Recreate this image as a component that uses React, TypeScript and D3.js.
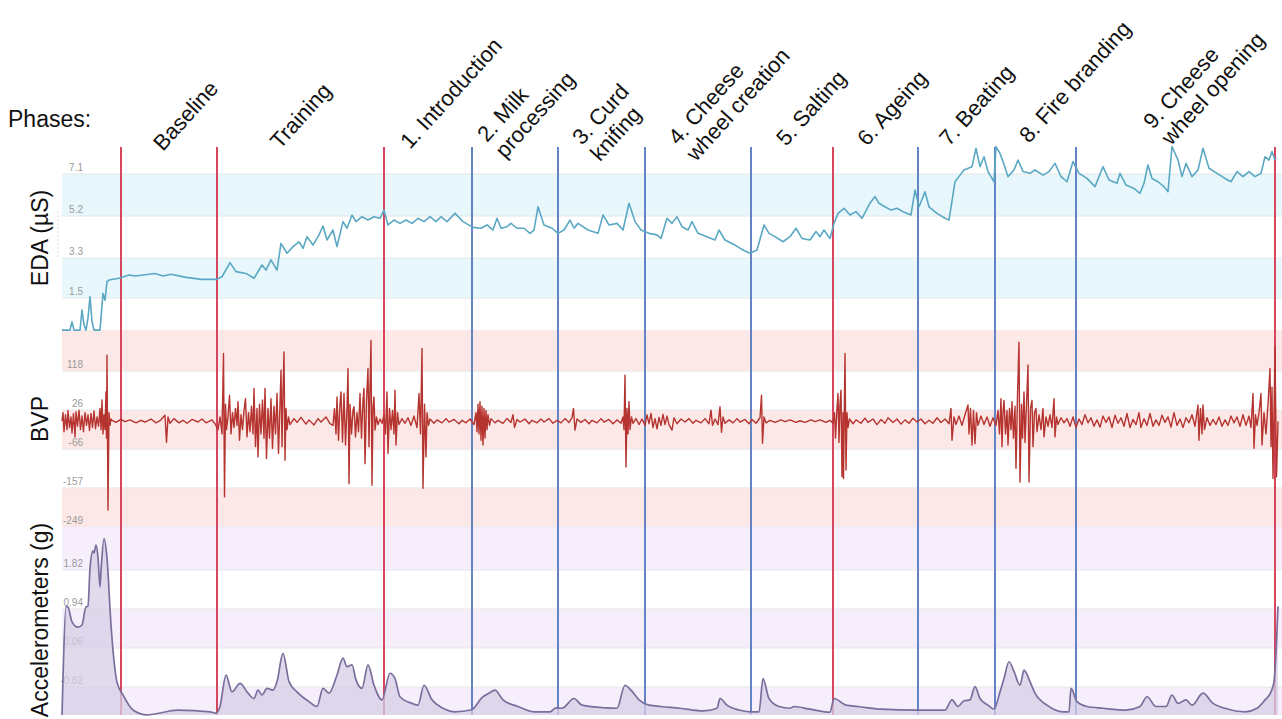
import React from 'react';
import * as d3 from 'd3';

// ---------- data ----------
const phaseLabels: string[][] = [
  ['Baseline'], ['Training'], ['1. Introduction'], ['2. Milk', 'processing'], ['3. Curd', 'knifing'],
  ['4. Cheese', 'wheel creation'], ['5. Salting'], ['6. Ageing'], ['7. Beating'], ['8. Fire branding'],
  ['9. Cheese', 'wheel opening'],
];
// phase boundaries (minutes) and whether each is a major (red) or minor (blue) boundary
const phaseBounds = [5.9, 15.5, 32.2, 41.0, 49.6, 58.3, 68.9, 77.1, 85.6, 93.3, 101.4, 121.3];
const boundKinds = ['major', 'major', 'major', 'minor', 'minor', 'minor', 'minor', 'major', 'minor', 'minor', 'minor', 'major'];

const edaTicks = [7.1, 5.2, 3.3, 1.5];
const bvpTicks = [118, 26, -66, -157, -249];
const accTicks = [1.82, 0.94, 0.06, -0.82];

const edaSeries: [number, number][] = [
  [0,0.05],[0.8,0.05],[1.0,0.43],[1.2,0.05],[1.8,0.05],[2.0,0.96],[2.2,0.3],[2.4,0.05],[2.6,0.6],[2.8,1.56],[3.0,0.43],[3.2,0.05],[3.8,0.05],[4.1,1.71],[4.3,1.4],[4.5,2.24],[4.7,2.31],[5.7,2.39],[6.7,2.54],[7.3,2.49],[8.1,2.54],[9.3,2.61],[10.1,2.49],[10.9,2.57],[12.4,2.43],[14.0,2.34],[15.4,2.34],[16.0,2.46],[16.8,3.10],[17.4,2.69],[18.4,2.61],[19.2,2.39],[20.0,2.99],[20.4,2.76],[20.9,3.22],[21.5,2.76],[21.9,3.97],[22.5,3.52],[23.1,3.82],[23.7,4.04],[24.1,3.74],[24.5,4.27],[25.1,3.89],[25.7,4.35],[26.1,4.75],[26.5,4.12],[27.1,4.57],[27.5,3.82],[28.1,4.95],[28.5,4.65],[29.0,5.25],[29.4,4.95],[30.0,5.17],[30.6,5.02],[31.2,5.17],[31.8,5.10],[32.2,5.47],[32.6,4.80],[33.2,5.02],[33.8,4.87],[34.4,5.02],[35.0,4.87],[35.6,5.10],[36.2,4.95],[36.8,5.17],[37.4,4.95],[37.9,5.17],[38.5,4.95],[39.3,5.32],[40.1,4.95],[41.1,4.69],[41.9,4.65],[42.5,4.80],[43.1,4.57],[43.5,5.10],[43.9,4.65],[44.5,4.72],[44.9,4.87],[45.5,4.65],[46.2,4.65],[46.8,4.42],[47.2,4.57],[47.6,5.62],[48.2,4.80],[49.0,4.65],[49.6,4.42],[50.2,4.57],[50.8,5.02],[51.2,4.65],[51.6,4.87],[52.6,4.57],[53.6,4.42],[54.1,5.25],[54.7,4.80],[55.5,4.87],[56.1,4.57],[56.7,5.78],[57.3,4.95],[57.9,4.57],[58.7,4.42],[59.5,4.35],[59.9,4.19],[60.5,5.10],[61.0,4.87],[61.5,5.17],[62.0,4.72],[62.6,4.57],[63.0,4.95],[63.6,4.42],[64.5,4.27],[65.3,4.12],[65.7,4.57],[66.3,4.12],[67.3,3.89],[68.1,3.67],[68.8,3.52],[69.5,3.67],[70.2,4.80],[70.7,4.42],[71.3,4.27],[72.1,4.04],[72.8,4.27],[73.4,4.65],[74.0,4.19],[74.8,4.12],[75.4,4.50],[75.8,4.27],[76.2,4.57],[76.8,4.19],[77.2,4.87],[77.6,5.32],[78.2,5.55],[78.8,5.25],[79.4,5.40],[80.0,5.10],[80.6,5.62],[80.9,5.85],[81.3,6.08],[81.7,5.78],[82.3,5.62],[82.9,5.47],[83.5,5.55],[84.1,5.40],[84.9,5.25],[85.3,6.38],[85.7,5.62],[86.3,6.30],[86.7,5.62],[87.5,5.32],[88.3,5.10],[88.7,5.02],[89.3,6.75],[89.8,7.05],[90.2,7.28],[91.0,7.43],[91.4,8.26],[91.8,7.43],[92.2,7.88],[92.6,7.21],[93.2,6.75],[93.4,8.34],[93.8,8.03],[94.1,7.66],[94.6,6.98],[95.2,7.28],[95.6,7.73],[96.1,7.21],[96.8,7.13],[97.3,7.28],[98.1,7.05],[98.7,7.21],[99.3,7.58],[99.9,6.98],[100.5,6.75],[101.1,7.66],[101.7,7.13],[102.5,6.90],[103.3,6.53],[104.1,7.43],[104.7,6.83],[105.5,6.68],[105.8,7.13],[106.4,6.60],[107.2,6.45],[107.8,6.23],[108.2,6.68],[108.6,7.51],[109.0,6.90],[109.6,6.75],[110.2,6.53],[110.6,6.30],[111.0,8.34],[111.6,7.73],[112.0,6.98],[112.4,7.58],[113.0,6.98],[113.6,7.28],[114.1,8.26],[114.7,7.36],[115.5,7.13],[116.3,6.90],[116.9,6.75],[117.5,7.21],[118.1,6.98],[118.7,7.21],[119.3,6.98],[119.9,7.13],[120.3,7.88],[120.7,7.73],[121.0,8.11],[121.3,7.73],
];

const bvpSeries: [number, number][] = [
  [0,0],[0.1,20],[0.2,-25],[0.35,15],[0.5,-20],[0.6,25],[0.75,-15],[0.9,10],[1.0,-28],[1.15,18],[1.3,-37],[1.4,22],[1.55,-12],[1.7,26],[1.85,-20],[2.0,12],[2.15,-25],[2.3,20],[2.45,-10],[2.6,15],[2.75,-22],[2.9,18],[3.05,-15],[3.2,24],[3.35,-18],[3.5,10],[3.65,-12],[3.8,30],[3.9,-20],[4.0,50],[4.1,-30],[4.2,15],[4.3,-20],[4.4,69],[4.45,-40],[4.5,155],[4.6,-209],[4.7,20],[4.8,-10],[4.9,5],
  [5.0,2],[5.4,-3],[5.9,4],[6.3,-1],[6.8,3],[7.4,-4],[7.9,2],[8.3,-2],[8.9,5],[9.4,-4],[9.8,1],[10.3,14],[10.45,-50],[10.6,10],[10.8,-5],[11.2,6],[11.7,-4],[12.1,2],[12.5,-5],[13.0,4],[13.6,-2],[14.0,5],[14.4,-4],[15.0,3],[15.3,-6],
  [15.6,-20],[15.8,10],[16.0,-30],[16.15,159],[16.25,-178],[16.35,40],[16.45,-20],[16.6,10],[16.75,61],[16.9,-30],[17.05,20],[17.2,-15],[17.35,30],[17.5,-10],[17.6,46],[17.75,-45],[17.9,15],[18.05,-20],[18.2,25],[18.35,53],[18.5,-37],[18.65,20],[18.8,-25],[18.95,35],[19.1,-30],[19.2,77],[19.35,-60],[19.5,30],[19.6,-84],[19.75,40],[19.9,-30],[20.05,50],[20.2,-40],[20.3,77],[20.45,-88],[20.6,30],[20.75,-40],[20.9,53],[21.05,-64],[21.2,35],[21.35,-30],[21.5,65],[21.65,-76],[21.8,40],[21.9,120],[22.0,-60],[22.1,70],[22.2,163],[22.3,-92],[22.4,30],[22.5,-20],[22.65,10],[22.8,-8],
  [23.2,6],[23.5,-3],[23.9,9],[24.4,-7],[24.7,3],[25.2,-9],[25.6,6],[25.9,-2],[26.4,10],[26.8,-6],
  [27.1,-10],[27.25,30],[27.4,-30],[27.5,57],[27.65,-45],[27.8,40],[27.9,69],[28.05,-49],[28.2,65],[28.35,-56],[28.5,30],[28.6,124],[28.7,-147],[28.8,40],[28.95,-30],[29.1,25],[29.2,34],[29.35,-37],[29.5,20],[29.65,-25],[29.8,65],[29.95,-40],[30.1,50],[30.2,77],[30.3,-100],[30.45,50],[30.6,124],[30.7,-60],[30.8,80],[30.9,190],[31.0,-151],[31.1,30],[31.2,57],[31.3,-21],[31.45,10],[31.6,-8],[31.8,5],
  [32.0,-5],[32.2,15],[32.35,-30],[32.5,69],[32.6,-76],[32.75,30],[32.9,-20],[33.05,25],[33.2,-30],[33.3,73],[33.4,-56],[33.55,20],[33.7,-8],[34.0,6],[34.3,-5],
  [34.6,8],[34.9,-10],[35.2,12],[35.5,-15],[35.7,65],[35.85,-30],[36.0,171],[36.1,-158],[36.25,40],[36.4,-84],[36.5,20],[36.65,-10],[36.8,5],
  [37.2,-5],[37.5,3],[38.0,-4],[38.4,6],[38.7,-2],[39.2,4],[39.7,-6],[40.0,2],[40.4,-4],[40.8,5],
  [41.2,-8],[41.4,20],[41.5,-25],[41.6,40],[41.7,-30],[41.8,46],[41.9,-45],[42.0,35],[42.1,-56],[42.2,30],[42.3,-40],[42.4,25],[42.5,-20],[42.6,15],[42.75,-10],[42.9,6],
  [43.3,-4],[43.6,2],[44.1,-5],[44.5,6],[44.9,-3],[45.1,15],[45.25,-15],[45.5,4],[45.8,-2],[46.3,5],[46.7,-6],[47.0,2],[47.5,-4],[47.9,5],[48.2,-2],[48.7,6],[49.1,-5],[49.5,2],[49.9,-4],[50.3,6],[50.7,-3],[51.0,8],[51.15,30],[51.3,-21],[51.5,5],[51.9,-3],[52.3,4],[52.7,-6],[53.0,2],[53.5,-4],[53.9,6],[54.2,-2],[54.7,4],[55.1,-6],[55.5,3],[55.9,-5],
  [56.1,10],[56.2,-20],[56.3,108],[56.4,-108],[56.5,30],[56.6,-30],[56.7,46],[56.8,-20],[56.95,10],[57.1,-5],
  [57.4,6],[57.7,-8],[58.0,5],[58.3,-10],[58.5,15],[58.7,-6],[58.9,18],[59.1,-15],[59.3,6],[59.5,-18],[59.7,9],[59.9,-10],[60.1,16],[60.3,-8],[60.5,12],[60.7,-8],[61.0,-21],[61.2,8],[61.5,-6],
  [61.9,5],[62.3,-2],[62.7,6],[63.1,-5],[63.4,2],[63.9,-4],[64.3,6],[64.7,-6],[64.9,26],[65.05,-10],[65.3,5],[65.6,-8],[65.8,34],[65.95,-26],[66.1,10],[66.3,-5],[66.7,3],[67.1,-4],[67.5,6],[67.8,-2],[68.3,4],[68.7,-6],
  [69.0,4],[69.4,-5],[69.8,8],[69.95,61],[70.05,-52],[70.2,10],[70.4,-4],
  [70.8,2],[71.3,-3],[71.9,3],[72.3,-1],[72.8,3],[73.4,-3],[73.8,1],[74.3,-3],[74.9,3],[75.3,-1],[75.8,3],[76.4,-3],[76.8,2],
  [77.1,-5],[77.25,20],[77.35,-40],[77.5,30],[77.6,65],[77.7,-50],[77.8,40],[77.9,73],[78.0,-131],[78.1,20],[78.15,-135],[78.3,159],[78.4,-115],[78.5,20],[78.6,-15],[78.75,5],
  [79.1,-6],[79.4,3],[79.9,-5],[80.3,7],[80.6,-3],[81.1,5],[81.5,-8],[81.9,4],[82.3,-5],[82.6,8],[83.1,-3],[83.5,5],[83.9,-7],[84.3,3],[84.7,-5],[85.1,7],[85.5,-2],[85.9,5],[86.3,-6],[86.7,2],[87.1,-5],[87.5,8],[87.9,-3],[88.3,5],[88.7,-6],
  [88.9,30],[89.0,-45],[89.2,10],[89.4,-8],[89.7,12],[90.0,-10],[90.3,15],[90.6,38],[90.7,-30],[90.85,30],[91.0,-56],[91.15,25],[91.3,-53],[91.45,20],[91.6,-10],[91.9,12],[92.2,-8],[92.5,10],[92.8,-12],[93.1,8],
  [93.4,-10],[93.6,25],[93.75,-30],[93.9,53],[94.0,-60],[94.1,20],[94.2,49],[94.35,-30],[94.5,25],[94.6,-56],[94.75,30],[94.9,-20],[95.0,46],[95.15,-40],[95.3,35],[95.4,-111],[95.55,60],[95.7,186],[95.8,-143],[95.95,40],[96.05,-40],[96.2,69],[96.3,-50],[96.45,40],[96.6,132],[96.7,-143],[96.85,30],[97.0,49],[97.1,-60],[97.25,20],[97.4,30],[97.5,-25],[97.7,15],[97.9,-20],[98.1,30],[98.2,-37],[98.4,10],[98.6,-12],[98.8,15],[99.0,-15],[99.2,53],[99.3,-37],[99.45,10],[99.6,-8],
  [99.9,8],[100.2,-4],[100.5,6],[100.8,-12],[101.1,10],[101.4,-15],[101.7,5],[102.0,-8],[102.3,15],[102.6,-4],[102.9,8],[103.2,-12],[103.5,3],[103.8,-14],[104.1,12],[104.4,-3],[104.7,10],[105.0,-15],[105.3,14],[105.6,-5],[105.9,8],[106.2,-12],[106.5,18],[106.8,-15],[107.1,4],[107.4,-8],[107.7,20],[107.9,-15],[108.2,6],[108.5,-10],[108.8,18],[109.1,-12],[109.4,3],[109.7,-10],[110.0,14],[110.3,-3],[110.6,10],[110.9,-14],[111.2,20],[111.5,-10],[111.8,5],[112.1,-15],[112.4,8],[112.7,-4],[113.0,15],[113.3,-12],[113.6,38],[113.7,-45],[113.85,30],[114.0,-30],[114.1,38],[114.25,-20],[114.5,8],[114.8,-10],[115.1,4],[115.4,-8],[115.7,10],[116.0,-12],[116.3,3],[116.6,-10],[116.9,12],[117.2,-4],[117.5,10],[117.8,-12],[118.1,15],[118.4,-10],[118.7,12],
  [118.9,-15],[119.1,65],[119.2,-64],[119.35,15],[119.5,-10],[119.7,20],[119.9,65],[120.0,-56],[120.2,20],[120.4,-30],[120.6,40],[120.8,124],[120.9,-60],[121.0,80],[121.1,-135],[121.3,175],[121.45,-131],[121.6,0],
];

const accSeries: [number, number][] = [
  [0,-1.45],[0.1,-0.6],[0.4,1.0],[0.6,0.98],[1.0,0.65],[1.6,0.53],[2.0,0.58],[2.4,0.99],[2.6,1.0],[2.8,1.86],[3.1,2.25],[3.2,2.2],[3.4,2.38],[3.6,2.1],[3.8,1.44],[3.9,1.8],[4.2,2.53],[4.5,2.09],[4.9,0.58],[5.5,-0.71],[6.1,-1.0],[7.1,-1.34],[8.5,-1.45],[11.6,-1.34],[14.8,-1.38],[15.4,-1.41],[15.8,-1.26],[16.4,-0.55],[17.0,-0.93],[17.8,-0.74],[18.6,-0.96],[19.2,-1.08],[19.6,-0.89],[20.0,-1.00],[20.5,-0.85],[21.1,-0.89],[21.5,-0.70],[22.1,-0.06],[22.7,-0.70],[23.5,-0.93],[24.7,-1.15],[25.5,-1.26],[26.1,-0.85],[26.7,-0.96],[27.5,-0.55],[28.1,-0.17],[28.5,-0.36],[29.0,-0.32],[29.4,-0.66],[30.0,-0.85],[30.6,-0.32],[31.2,-0.78],[32.0,-1.11],[32.8,-0.51],[33.3,-0.63],[33.8,-1.04],[35.0,-1.19],[35.6,-1.23],[36.2,-0.78],[37.0,-1.11],[38.1,-1.30],[39.3,-1.38],[40.9,-1.34],[42.1,-1.04],[42.7,-0.96],[43.3,-0.89],[44.1,-1.11],[45.6,-1.26],[47.2,-1.38],[48.8,-1.38],[49.4,-1.29],[50.0,-1.30],[51.2,-1.08],[52.0,-1.23],[54.3,-1.29],[55.5,-1.30],[56.3,-0.78],[56.9,-0.89],[57.7,-1.11],[58.7,-1.23],[59.9,-1.26],[61.8,-1.30],[64.1,-1.36],[65.5,-1.30],[65.8,-1.08],[66.5,-1.23],[67.7,-1.34],[68.8,-1.38],[69.7,-1.38],[70.1,-0.63],[70.7,-1.08],[71.7,-1.26],[72.8,-1.30],[73.2,-1.26],[74.8,-1.32],[76.8,-1.39],[77.2,-1.08],[78.4,-1.23],[79.6,-1.26],[81.9,-1.32],[85.5,-1.34],[88.3,-1.34],[89.0,-1.11],[89.6,-1.26],[90.2,-1.13],[90.8,-1.11],[91.3,-0.81],[91.8,-1.08],[92.6,-1.23],[93.2,-1.32],[93.8,-0.93],[94.2,-0.63],[94.7,-0.25],[95.2,-0.47],[95.8,-0.78],[96.2,-0.44],[96.8,-0.70],[97.3,-0.96],[98.5,-1.23],[100.1,-1.38],[100.7,-1.38],[100.9,-0.85],[101.5,-1.15],[102.5,-1.26],[104.1,-1.30],[106.4,-1.34],[107.8,-1.26],[108.5,-1.04],[109.4,-1.26],[110.4,-1.26],[111.0,-1.00],[111.6,-1.19],[112.4,-1.11],[113.0,-1.23],[114.1,-0.96],[115.1,-1.19],[116.3,-1.30],[118.3,-1.38],[119.5,-1.30],[120.3,-1.11],[120.9,-0.93],[121.2,-0.70],[121.6,1.0],
];

// ---------- layout ----------
const W = 1282, H = 719;
const TIME_DOMAIN = [0, 121.6];
const PLOT_L = 62, PLOT_R = 1278;
const LINE_TOP = 147, LINE_BOTTOM = 715;
const FONT = "'Liberation Sans', Arial, Helvetica, sans-serif";
const LABEL_ANGLE = -48;
// anchor (time, baseline y) of the first line of each rotated phase label
const labelAnchors: [number, number][] = [
  [10.1, 152], [21.8, 150], [34.8, 150], [42.5, 143], [52.0, 146], [61.6, 146],
  [72.4, 147], [80.5, 147], [88.7, 147], [96.7, 144], [109.1, 130],
];

const panels = [
  { id: 'eda', top: 147, bottom: 330, domain: [1.5, 7.1], range: [298, 174], ticks: edaTicks,
    fills: ['#ffffff', '#e7f7fb', '#ffffff', '#e7f7fb', '#ffffff'], title: 'EDA (µS)', titleY: 238 },
  { id: 'bvp', top: 330, bottom: 527, domain: [-249, 118], range: [527, 371], ticks: bvpTicks,
    fills: ['#fde8e8', '#ffffff', '#fde8e8', '#ffffff', '#fde8e8'], title: 'BVP', titleY: 419 },
  { id: 'acc', top: 527, bottom: 715, domain: [-0.82, 1.82], range: [687, 570], ticks: accTicks,
    fills: ['#f6eefb', '#ffffff', '#f6eefb', '#ffffff', '#f6eefb'], title: 'Accelerometers (g)', titleY: 620 },
];

export default function App() {
  const x = d3.scaleLinear().domain(TIME_DOMAIN).range([PLOT_L, PLOT_R]);
  const scales = panels.map(p => d3.scaleLinear().domain(p.domain).range(p.range));
  const [yE, yB, yA] = scales;

  const edaLine = d3.line<[number, number]>().x(d => x(d[0])).y(d => yE(d[1]));
  const bvpLine = d3.line<[number, number]>().x(d => x(d[0])).y(d => yB(d[1]));
  const accLine = d3.line<[number, number]>().x(d => x(d[0])).y(d => yA(d[1])).curve(d3.curveMonotoneX);
  const accArea = d3.area<[number, number]>().x(d => x(d[0])).y0(panels[2].bottom).y1(d => yA(d[1])).curve(d3.curveMonotoneX);

  return (
    <svg width={W} height={H} style={{ position: 'absolute', left: 0, top: 0, display: 'block', background: '#fff' }} fontFamily={FONT}>
      {panels.map((p, pi) => {
        const y = scales[pi];
        const tickYs = p.ticks.map(t => y(t));
        const edges = [p.top, ...tickYs.filter(v => v > p.top + 1 && v < p.bottom - 1), p.bottom];
        return (
          <g key={p.id}>
            {edges.slice(0, -1).map((e, i) => (
              <rect key={i} x={PLOT_L} y={e} width={PLOT_R + 4 - PLOT_L} height={edges[i + 1] - e} fill={p.fills[i % p.fills.length]} />
            ))}
            {tickYs.map((ty, i) => (
              <line key={'g' + i} x1={PLOT_L} x2={PLOT_R + 4} y1={ty} y2={ty} stroke="#e6e6e6" strokeWidth={1} />
            ))}
            {p.ticks.map((t, i) => (
              <text key={'t' + i} x={83} y={tickYs[i] - 3} textAnchor="end" fontSize={10} fill="#9a9a9a">{String(t)}</text>
            ))}
            <text transform={`translate(48,${p.titleY}) rotate(-90)`} textAnchor="middle" fontSize={23} fill="#111">{p.title}</text>
          </g>
        );
      })}
      {/* faint dotted guide next to the EDA axis */}
      <line x1={58} x2={58} y1={yE(5.4)} y2={yE(3.3)} stroke="#b8b8b8" strokeWidth={1} strokeDasharray="1,3" />

      {phaseBounds.map((b, i) => (
        <line key={'pb' + i} x1={x(b)} x2={x(b)} y1={LINE_TOP} y2={LINE_BOTTOM}
          stroke={boundKinds[i] === 'major' ? '#d6465f' : '#6483c4'} strokeWidth={2} />
      ))}

      <path d={edaLine(edaSeries) || ''} fill="none" stroke="#5aa8c3" strokeWidth={1.6} strokeLinejoin="round" />
      <path d={bvpLine(bvpSeries) || ''} fill="none" stroke="#b5342f" strokeWidth={1.4} strokeLinejoin="round" />
      <path d={accArea(accSeries) || ''} fill="#d6cde6" fillOpacity={0.75} />
      <path d={accLine(accSeries) || ''} fill="none" stroke="#7a6e9c" strokeWidth={1.7} />

      <text x={8} y={127} fontSize={23} fill="#111">Phases:</text>
      {phaseLabels.map((lines, i) => {
        const [t, by] = labelAnchors[i];
        const lx = x(t);
        return (
          <text key={'pl' + i} transform={`translate(${lx},${by}) rotate(${LABEL_ANGLE})`} fontSize={22} fill="#111">
            {lines.map((ln, j) => (
              <tspan key={j} x={0} dy={j === 0 ? 0 : '1.1em'}>{ln}</tspan>
            ))}
          </text>
        );
      })}
    </svg>
  );
}
